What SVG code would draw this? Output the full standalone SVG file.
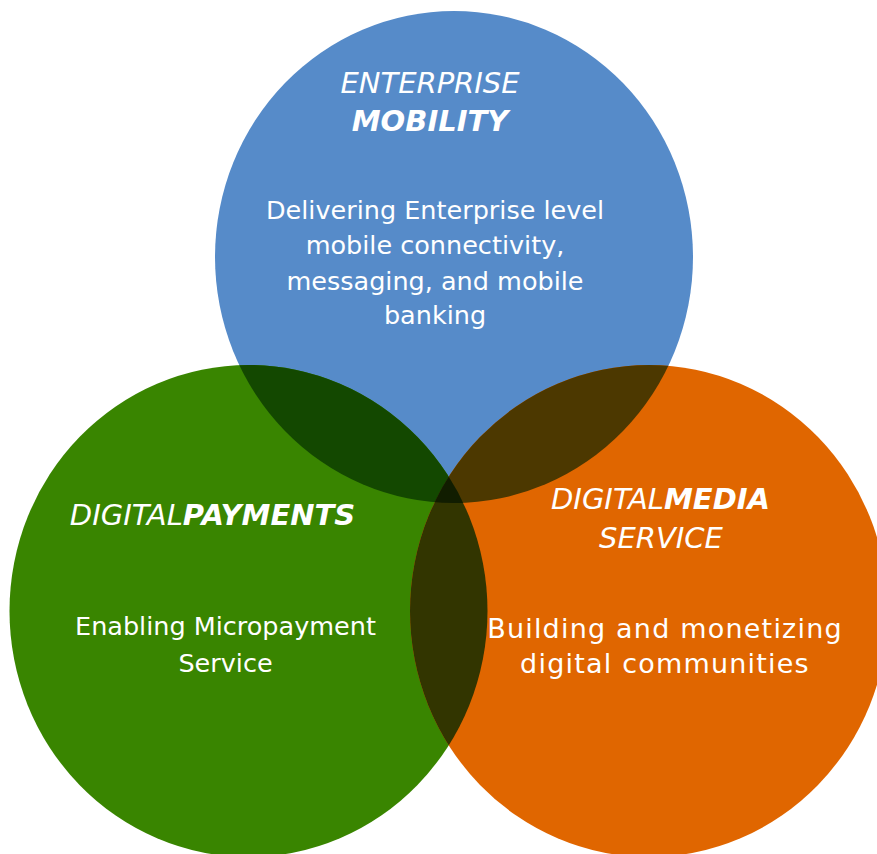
<svg xmlns="http://www.w3.org/2000/svg" width="877" height="854" viewBox="0 0 877 854">
  <style>
    .t { fill: #ffffff; font-family: "DejaVu Sans", Verdana, sans-serif; text-anchor: middle; }
    .title { font-size: 29px; font-style: italic; }
    .b { font-weight: bold; }
    .body { font-size: 25.5px; }
    .body2 { font-size: 27px; letter-spacing: 1.2px; }
  </style>
  <defs>
    <clipPath id="cBlue"><ellipse cx="454" cy="257" rx="239" ry="246"/></clipPath>
    <clipPath id="cGreen"><ellipse cx="248.5" cy="611" rx="239" ry="246"/></clipPath>
    <clipPath id="cOrange"><ellipse cx="649" cy="611" rx="239" ry="246"/></clipPath>
  </defs>
  <rect width="877" height="854" fill="#ffffff"/>

  <g id="enterprise-mobility">
    <ellipse cx="454" cy="257" rx="239" ry="246" fill="#568BC9"/>
    <text class="t title" x="430" y="93">ENTERPRISE</text>
    <text class="t title b" x="430" y="131">MOBILITY</text>
    <text class="t body" x="435" y="219">Delivering Enterprise level</text>
    <text class="t body" x="435" y="254">mobile connectivity,</text>
    <text class="t body" x="435" y="290">messaging, and mobile</text>
    <text class="t body" x="435" y="324">banking</text>
  </g>

  <g id="digital-payments">
    <ellipse cx="248.5" cy="611" rx="239" ry="246" fill="#398500"/>
    <text class="t title" x="212.5" y="525">DIGITAL<tspan class="b">PAYMENTS</tspan></text>
    <text class="t body" x="225.5" y="635">Enabling Micropayment</text>
    <text class="t body" x="225.5" y="672">Service</text>
  </g>

  <g id="digital-media-service">
    <ellipse cx="649" cy="611" rx="239" ry="246" fill="#E06600"/>
    <text class="t title" x="660.5" y="509">DIGITAL<tspan class="b">MEDIA</tspan></text>
    <text class="t title" x="661" y="548">SERVICE</text>
    <text class="t body2" x="665" y="638">Building and monetizing</text>
    <text class="t body2" x="665" y="673">digital communities</text>
  </g>

  <g id="overlaps">
    <g clip-path="url(#cBlue)">
      <ellipse cx="248.5" cy="611" rx="239" ry="246" fill="#134800"/>
      <ellipse cx="649" cy="611" rx="239" ry="246" fill="#4C3800"/>
    </g>
    <g clip-path="url(#cGreen)">
      <ellipse cx="649" cy="611" rx="239" ry="246" fill="#323500"/>
      <g clip-path="url(#cBlue)">
        <ellipse cx="649" cy="611" rx="239" ry="246" fill="#111D00"/>
      </g>
    </g>
  </g>
</svg>
